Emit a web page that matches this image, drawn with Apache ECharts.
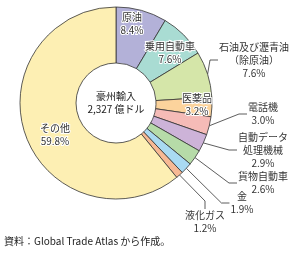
<!DOCTYPE html>
<html>
<head>
<meta charset="utf-8">
<script src="https://cdn.jsdelivr.net/npm/echarts@6/dist/echarts.min.js"></script>
<style>
html, body { margin: 0; padding: 0; background: #fff; }
#chart { width: 300px; height: 258px; }
</style>
</head>
<body>
<div id="chart"></div>
<script>
'use strict';

// 品目と構成比（%）
var categories = ['原油', '乗用自動車', '石油及び瀝青油\n（除原油）', '医薬品', '電話機',
    '自動データ\n処理機械', '貨物自動車', '金', '液化ガス', 'その他'];
var shares = [8.4, 7.6, 7.6, 3.2, 3.0, 2.9, 2.6, 1.9, 1.2, 59.8];
var colors = ['#b3b1d8', '#a9dcd3', '#d5e6a9', '#fcd39c', '#f5bbb7',
    '#cdb3d8', '#b6dba8', '#a9daf2', '#f7b994', '#fdefb3'];
// ラベル位置（中心座標）
var labelPos = [[132, 24], [170, 53], [254, 60], [197, 105], [263, 114],
    [263, 150], [263, 183], [242, 203], [205, 222], [55, 135]];
var insideLabels = [0, 1, 3, 9];

var FONT = '"Noto Sans CJK JP", sans-serif';

var chart = echarts.init(document.getElementById('chart'), null, {renderer: 'canvas'});

var pieData = categories.map(function (name, i) {
    var inside = insideLabels.indexOf(i) >= 0;
    return {
        name: name,
        value: shares[i],
        itemStyle: {color: colors[i]},
        labelLine: {show: !inside}
    };
});

chart.setOption({
    animation: false,
    graphic: [
        {
            type: 'text',
            left: 4,
            top: 236,
            style: {text: '資料：Global Trade Atlas から作成。', fontSize: 10, fontFamily: FONT, fill: '#222'}
        },
        {
            type: 'text',
            x: 116,
            y: 103,
            style: {
                text: '豪州輸入\n2,327 億ドル', fontSize: 10, fontFamily: FONT, fill: '#222',
                align: 'center', verticalAlign: 'middle', lineHeight: 13
            }
        }
    ],
    series: [{
        type: 'pie',
        center: [116, 103],
        radius: [40, 96],
        startAngle: 90,
        clockwise: true,
        data: pieData,
        itemStyle: {borderColor: '#333', borderWidth: 0.8},
        label: {
            show: true,
            position: 'outside',
            formatter: function (p) {
                return p.name + '\n' + p.value.toFixed(1) + '%';
            },
            fontSize: 10,
            lineHeight: 13,
            fontFamily: FONT,
            color: '#333',
            textBorderColor: '#fff',
            textBorderWidth: 2,
            align: 'center',
            overflow: 'none'
        },
        labelLine: {
            show: true,
            length: 10,
            length2: 8,
            lineStyle: {color: '#333', width: 0.8}
        },
        labelLayout: function (params) {
            var pos = labelPos[params.dataIndex];
            return {
                x: pos[0],
                y: pos[1],
                align: 'center',
                verticalAlign: 'middle'
            };
        }
    }]
});
</script>
</body>
</html>
